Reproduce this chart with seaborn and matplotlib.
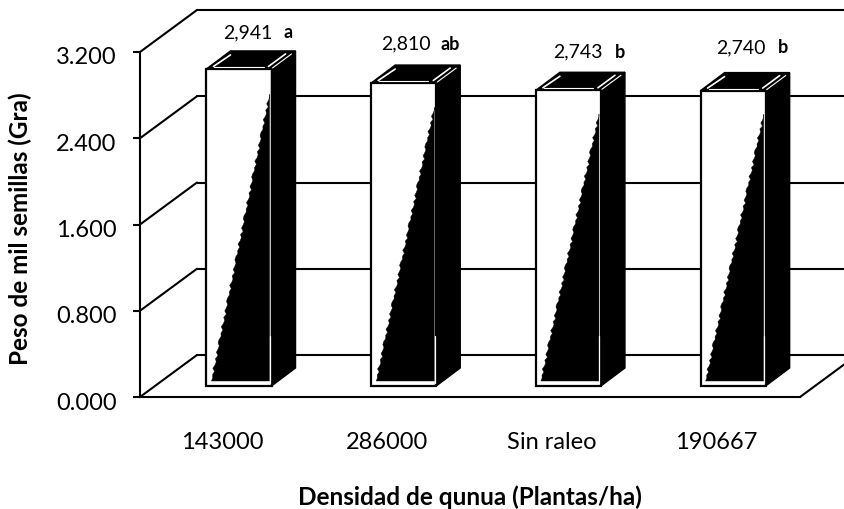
import matplotlib
matplotlib.use("Agg")
import matplotlib.pyplot as plt
from matplotlib.patches import Polygon
from matplotlib.lines import Line2D
from matplotlib.transforms import Affine2D, IdentityTransform
import pandas as pd
import seaborn as sns

categories = ["143000", "286000", "Sin raleo", "190667"]
values = [2.941, 2.810, 2.743, 2.740]
value_labels = ["2,941", "2,810", "2,743", "2,740"]
group_letters = ["a", "ab", "b", "b"]
y_ticks = [0.0, 0.8, 1.6, 2.4, 3.2]
y_tick_labels = ["0.000", "0.800", "1.600", "2.400", "3.200"]

sns.set_theme(style="white")
plt.rcParams["font.family"] = ["Lato", "DejaVu Sans"]

W, H = 845, 509
fig = plt.figure(figsize=(W / 100, H / 100), dpi=100)
ax = fig.add_axes([140 / W, (H - 397) / H, 660 / W, 345 / H])

df = pd.DataFrame({"densidad": categories, "peso": values})
sns.barplot(data=df, x="densidad", y="peso", color="white", saturation=1,
            edgecolor="black", linewidth=1.6, width=0.395, errorbar=None, ax=ax, zorder=5)
ax.set_xlim(-0.601, 3.406)
ax.set_ylim(0, 3.2)
fig.canvas.draw()

ident = IdentityTransform()
LW = 1.5
WALL_DX, WALL_DY = 57, 42      # back wall depth in px
BAR_DX, BAR_DY = 24, 18        # bar depth in px
BAR_LIFT = 11                  # bar sits on the floor, behind the front edge
JAG = [-0.8, 0.6, -0.2, 1.1, -1.2, 0.3, 0.9, -0.6, 1.4, -0.9, 0.1, 0.7, -1.1]
# label nudges in px, per bar: (value dx, letter dx, dy above the bar top)
NUDGE = [(-10, 30, 36), (-17, 27, 39), (-10, 33, 38), (-11, 31, 43)]


def line(xs, ys, color="black", lw=LW, z=2):
    fig.add_artist(Line2D(xs, ys, color=color, lw=lw, transform=ident, zorder=z,
                          solid_capstyle="round"))


def poly(pts, face="black", edge="black", lw=1.0, z=6):
    ax.add_patch(Polygon(pts, closed=True, facecolor=face, edgecolor=edge, lw=lw,
                         transform=ident, clip_on=False, zorder=z))


# Walls and floor from the axis scale
x_left = ax.transAxes.transform((0, 0))[0]
x_right = ax.transAxes.transform((1, 0))[0]
for t in y_ticks:
    py = ax.transData.transform((0, t))[1]
    line([x_left, x_left + WALL_DX], [py, py + WALL_DY])
    ax.plot([x_left + WALL_DX, W + 5], [py + WALL_DY] * 2, color="black", lw=LW,
            transform=ident, clip_on=False, zorder=1)
py0 = ax.transData.transform((0, 0))[1]
line([x_right, x_right + WALL_DX], [py0, py0 + WALL_DY])

# Bars
lift = Affine2D().translate(0, BAR_LIFT)
for bar, lab, let, (dv, dl, dy) in zip(ax.patches, value_labels, group_letters, NUDGE):
    bar.set_transform(ax.transData + lift)
    bar.set_clip_on(False)
    (x0, y0) = ax.transData.transform((bar.get_x(), 0))
    (x1, y1) = ax.transData.transform((bar.get_x() + bar.get_width(), bar.get_height()))
    y0 += BAR_LIFT
    y1 += BAR_LIFT
    # dark side and top faces
    poly([(x1, y1), (x1 + BAR_DX, y1 + BAR_DY), (x1 + BAR_DX, y0 + BAR_DY), (x1, y0)])
    poly([(x0, y1), (x0 + BAR_DX, y1 + BAR_DY), (x1 + BAR_DX, y1 + BAR_DY), (x1, y1)])
    # black wedge on the front face, with a rough scanned edge
    ax_, ay_ = x0 + 5, y0 + 5
    bx_, by_ = x1 - 2, y0 + 0.92 * (y1 - y0)
    n = 90
    edge = [(ax_ + (bx_ - ax_) * i / n + JAG[i % len(JAG)], ay_ + (by_ - ay_) * i / n)
            for i in range(1, n)]
    poly([(x1 - 2, ay_), (ax_, ay_)] + edge + [(bx_, by_)], lw=0.3, z=7)
    # white highlights
    for xa, ya, xb, yb, w in [
        (x0 + 7, y1 + 2.5, x0 + 24, y1 + 14, 1.2),
        (x0 + 8, y1 + 2, x1 - 8, y1 + 2, 0.8),
        (x1 - 3, y1 + 2.5, x1 + 14, y1 + 15, 1.2),
        (x1 + 1, y1 + 1, x1 + 20, y1 + 15, 0.8),
        (x1 - 1.5, y0 + 3, x1 - 1.5, y0 + 50, 0.9),
    ]:
        ax.plot([xa, xb], [ya, yb], color="white", lw=w, transform=ident,
                clip_on=False, zorder=8)
    # value and significance letter
    cx = (x0 + x1) / 2 + 19
    ax.text(cx + dv, y1 + dy, lab, transform=ident, ha="center", va="center",
            fontsize=14, color="black", zorder=9)
    ax.text(cx + dl, y1 + dy, let, transform=ident, ha="center", va="center",
            fontsize=13, fontweight="bold", color="black", zorder=9)

# Axes
sns.despine(ax=ax, top=True, right=True)
for s in ("left", "bottom"):
    ax.spines[s].set_linewidth(LW)
    ax.spines[s].set_color("black")
ax.set_yticks(y_ticks)
ax.set_yticklabels(y_tick_labels, fontsize=17, color="black")
ax.tick_params(axis="y", left=True, length=5, width=LW, pad=12, color="black")
ax.set_xticks(range(len(categories)))
ax.set_xticklabels(categories, fontsize=17, color="black")
ax.tick_params(axis="x", length=0, pad=25)
shift_x = Affine2D().translate(-17, 0)
for lb in ax.get_xticklabels():
    lb.set_transform(lb.get_transform() + shift_x)
shift_y = Affine2D().translate(0, -4)
for lb in ax.get_yticklabels():
    lb.set_transform(lb.get_transform() + shift_y)

ax.set_xlabel("")
ax.set_ylabel("")
fig.text(470 / W, (H - 497) / H, "Densidad de qunua (Plantas/ha)", ha="center", va="center",
         fontsize=17.5, fontweight="bold", color="black")
fig.text(20 / W, (H - 229) / H, "Peso de mil semillas (Gra)", ha="center", va="center",
         rotation=90, fontsize=17.5, fontweight="bold", color="black")

fig.savefig("out.png", dpi=100, facecolor="white")
